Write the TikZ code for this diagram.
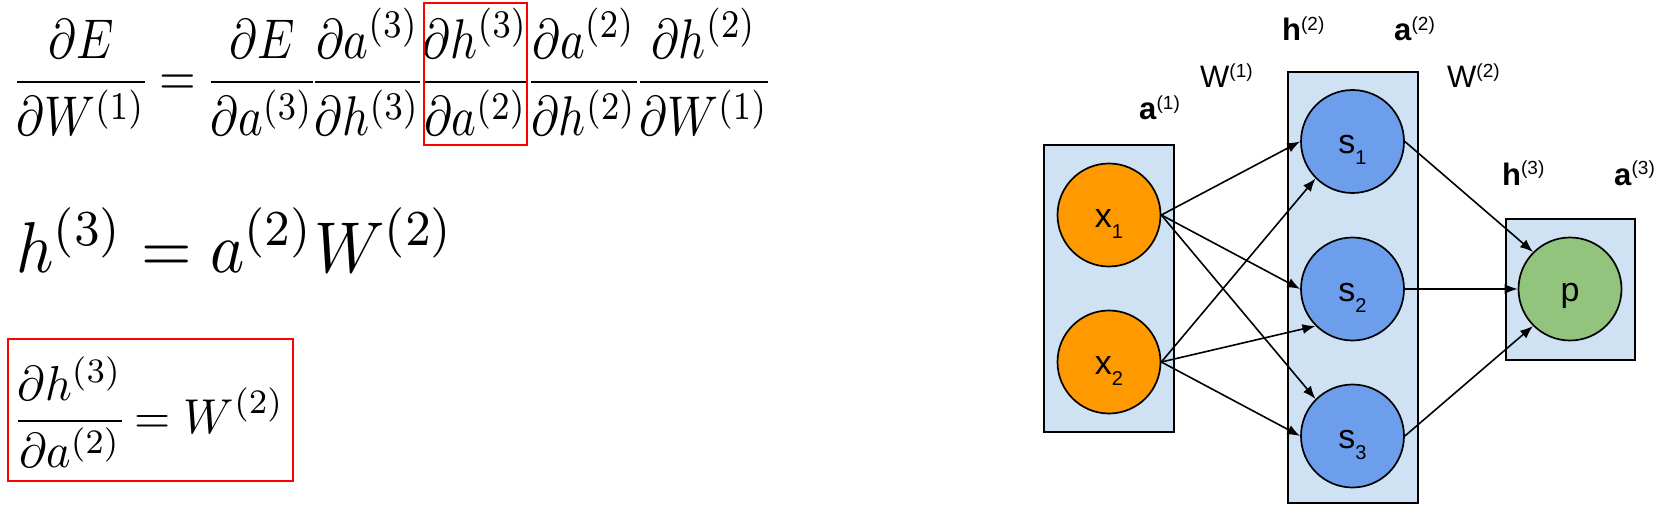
\documentclass[tikz,border=0pt]{standalone}
\usepackage[no-math]{fontspec}
\newfontfamily\arialf{Liberation Sans}
\usetikzlibrary{arrows.meta}
\definecolor{layerfill}{HTML}{CFE2F3}
\definecolor{inorange}{HTML}{FF9900}
\definecolor{hidblue}{HTML}{6D9EEB}
\definecolor{outgreen}{HTML}{93C47D}
\definecolor{boxred}{HTML}{FF0000}
\setlength{\nulldelimiterspace}{0pt}
\newcommand\supl[1]{\raisebox{10.5pt}{\fontsize{19}{23}\selectfont #1}}
\newcommand\subl[1]{\raisebox{-11pt}{\fontsize{20}{24}\selectfont #1}}
\begin{document}
\begin{tikzpicture}[x=1pt,y=-1pt,
  layer/.style={draw=black, fill=layerfill, line width=1.7pt, inner sep=0pt, minimum width=130pt},
  unit/.style={circle, draw=black, line width=1.7pt, minimum size=103pt, inner sep=0pt,
    text height=40pt, text depth=16pt, font=\arialf\fontsize{34}{40}\selectfont},
  lbl/.style={anchor=base west, inner sep=0pt, font=\arialf\fontsize{31}{37}\selectfont},
  conn/.style={line width=1.6pt, -{Latex[length=13pt,width=10pt]}},
  eqn/.style={inner sep=0pt, xscale=4.7, yscale=5.6, anchor=base},
  redbox/.style={draw=boxred, line width=1.8pt}]
\useasboundingbox (0,0) rectangle (1665,532);

% ---- equations ----
\node[eqn] (f1) at (81,96) {$\displaystyle\frac{\partial E}{\partial W^{(1)}}$};
\node[eqn] (eq1) at (178,96) {$=$};
\node[eqn] (f2) at (262,96) {$\displaystyle\frac{\partial E}{\partial a^{(3)}}$};
\node[eqn] (f3) at (367.5,96) {$\displaystyle\frac{\partial a^{(3)}}{\partial h^{(3)}}$};
\node[eqn] (f4) at (475.5,96) {$\displaystyle\frac{\partial h^{(3)}}{\partial a^{(2)}}$};
\node[eqn] (f5) at (584,96) {$\displaystyle\frac{\partial a^{(2)}}{\partial h^{(2)}}$};
\node[eqn] (f6) at (704,96) {$\displaystyle\frac{\partial h^{(2)}}{\partial W^{(1)}}$};
\draw[redbox] (424,3) rectangle (527,145);

\node[inner sep=0pt, xscale=6.5, yscale=7.2, anchor=base west] (big) at (15,272) {$h^{(3)} = a^{(2)}W^{(2)}$};

\node[inner sep=0pt, xscale=4.65, yscale=4.9, anchor=base west] (res) at (17,433.25) {$\displaystyle\frac{\partial h^{(3)}}{\partial a^{(2)}} = W^{(2)}$};
\draw[redbox] (8,339) rectangle (293,481);

% ---- network ----
\node[layer, minimum height=287pt] (L1) at (1109,288.5) {};
\node[layer, minimum height=431pt] (L2) at (1353,287.5) {};
\node[layer, minimum width=129pt, minimum height=141pt] (L3) at (1570.5,289.5) {};

\node[unit, fill=inorange] (x1) at (1109,215) {x\subl{1}};
\node[unit, fill=inorange] (x2) at (1109,362) {x\subl{2}};
\node[unit, fill=hidblue] (s1) at (1352.5,141.5) {s\subl{1}};
\node[unit, fill=hidblue] (s2) at (1352.5,289) {s\subl{2}};
\node[unit, fill=hidblue] (s3) at (1352.5,436) {s\subl{3}};
\node[unit, fill=outgreen] (p) at (1570,289) {p};

\node[lbl] (la1) at (1139,120) {\textbf{a}\supl{(1)}};
\node[lbl] (lw1) at (1200,88) {W\supl{(1)}};
\node[lbl] (lh2) at (1282,41) {\textbf{h}\supl{(2)}};
\node[lbl] (la2) at (1394,41) {\textbf{a}\supl{(2)}};
\node[lbl] (lw2) at (1447,88) {W\supl{(2)}};
\node[lbl] (lh3) at (1502,185) {\textbf{h}\supl{(3)}};
\node[lbl] (la3) at (1614,185) {\textbf{a}\supl{(3)}};

\draw[conn] (x1.east) -- (s1.west);
\draw[conn] (x1.east) -- (s2.west);
\draw[conn] (x1.east) -- (s3.north west);
\draw[conn] (x2.east) -- (s1.south west);
\draw[conn] (x2.east) -- (s2.south west);
\draw[conn] (x2.east) -- (s3.west);
\draw[conn] (s1.east) -- (p.north west);
\draw[conn] (s2.east) -- (p.west);
\draw[conn] (s3.east) -- (p.south west);
\end{tikzpicture}
\end{document}
